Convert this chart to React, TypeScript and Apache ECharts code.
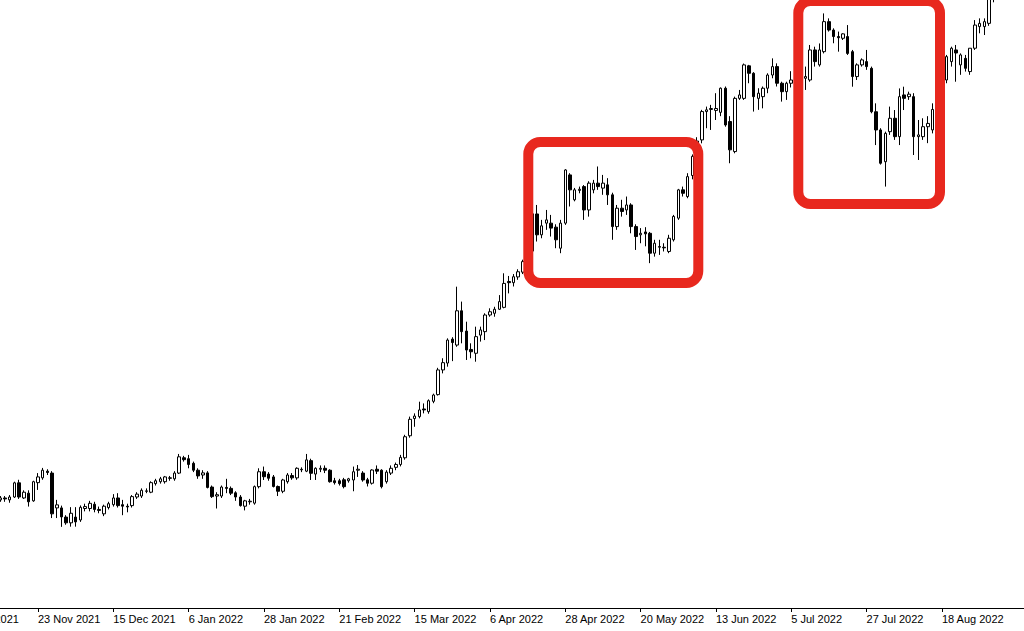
import React, { useEffect, useRef } from "react";
import * as echarts from "echarts";

// USD/JPY daily candles: [open, close, low, high]
const firstCategoryDate = "2021-11-01"; // weekday calendar starts here
const leadingEmpty = 8; // 1 Nov .. 10 Nov have no visible candle
const ohlc: number[][] = [
  [113.95, 114.05, 113.85, 114.15], // 11 Nov
  [114.05, 114.0, 113.85, 114.15],
  [113.95, 114.1, 113.8, 114.2],
  [114.1, 114.84, 114.05, 114.9],
  [114.84, 114.1, 114.0, 115.0],
  [114.05, 114.35, 114.0, 114.45],
  [114.3, 113.85, 113.6, 114.45],
  [113.9, 114.9, 113.85, 114.95],
  [114.85, 115.15, 114.47, 115.35],
  [115.1, 115.5, 115.0, 115.62],
  [115.45, 115.38, 115.25, 115.55],
  [115.35, 113.22, 113.0, 115.45], // 26 Nov
  [113.53, 113.69, 113.0, 113.95],
  [113.53, 113.06, 112.54, 113.65],
  [113.05, 112.75, 112.65, 113.15],
  [112.75, 113.25, 112.55, 113.57],
  [113.05, 112.8, 112.55, 113.57],
  [112.9, 113.56, 112.8, 113.66],
  [113.5, 113.6, 113.35, 113.75],
  [113.5, 113.77, 113.35, 113.9],
  [113.72, 113.45, 113.3, 113.85],
  [113.45, 113.4, 113.25, 113.6],
  [113.22, 113.62, 113.1, 113.7],
  [113.55, 113.75, 113.45, 113.85],
  [113.7, 114.05, 113.6, 114.25], // 15 Dec
  [114.05, 113.65, 113.55, 114.3],
  [113.7, 113.62, 113.15, 113.95],
  [113.62, 113.58, 113.3, 113.75],
  [113.65, 114.12, 113.55, 114.2],
  [114.1, 114.25, 114.0, 114.35],
  [114.15, 114.45, 114.05, 114.55],
  [114.42, 114.4, 114.3, 114.55],
  [114.35, 114.85, 114.3, 114.92],
  [114.8, 114.95, 114.7, 115.05],
  [114.9, 115.05, 114.8, 115.15],
  [114.9, 115.15, 114.8, 115.2],
  [115.1, 115.08, 114.95, 115.2],
  [115.05, 115.35, 114.95, 115.45], // 3 Jan
  [115.35, 116.2, 115.3, 116.35],
  [116.15, 116.05, 115.95, 116.25],
  [116.1, 115.8, 115.6, 116.3],
  [115.86, 115.5, 115.4, 115.95],
  [115.5, 115.2, 115.05, 115.6],
  [115.25, 115.36, 115.05, 115.5],
  [115.36, 114.6, 114.55, 115.45],
  [114.62, 114.12, 114.05, 114.7],
  [114.15, 114.22, 113.5, 114.35],
  [114.15, 114.62, 114.05, 114.7],
  [114.6, 114.55, 114.3, 115.05],
  [114.55, 114.3, 114.2, 114.65],
  [114.32, 114.1, 113.9, 114.4],
  [114.1, 113.65, 113.6, 114.2],
  [113.62, 113.9, 113.4, 113.95],
  [113.85, 113.88, 113.7, 114.0],
  [113.78, 114.64, 113.7, 114.7],
  [114.64, 115.42, 114.55, 115.6],
  [115.42, 115.16, 114.99, 115.69], // 28 Jan
  [115.3, 115.08, 114.95, 115.4],
  [115.15, 114.65, 114.6, 115.25],
  [114.65, 114.4, 114.15, 114.7],
  [114.4, 114.99, 114.3, 115.05],
  [114.9, 115.25, 114.8, 115.35],
  [115.22, 115.1, 115.0, 115.35],
  [115.1, 115.6, 115.0, 115.65],
  [115.55, 115.52, 115.4, 115.65],
  [115.45, 116.04, 115.4, 116.35],
  [116.0, 115.34, 114.99, 116.1],
  [115.3, 115.6, 114.99, 115.65],
  [115.55, 115.6, 115.4, 115.75],
  [115.6, 115.5, 115.35, 115.75],
  [115.5, 114.9, 114.85, 115.55],
  [114.95, 114.85, 114.75, 115.1],
  [114.95, 114.8, 114.7, 115.05], // 21 Feb
  [115.0, 114.64, 114.55, 115.1],
  [114.95, 115.05, 114.85, 115.1],
  [114.99, 115.42, 114.4, 115.69],
  [115.5, 115.55, 115.15, 115.77],
  [115.35, 114.99, 114.9, 115.45],
  [115.0, 114.82, 114.65, 115.1],
  [114.82, 115.51, 114.75, 115.55],
  [115.55, 115.45, 115.3, 115.75],
  [115.5, 114.64, 114.55, 115.55],
  [114.9, 115.4, 114.8, 115.5],
  [115.35, 115.6, 115.25, 115.75],
  [115.65, 115.8, 115.5, 115.9],
  [115.8, 116.17, 115.7, 116.3],
  [116.15, 117.25, 116.05, 117.35],
  [117.3, 118.16, 117.2, 118.3],
  [118.2, 118.33, 117.77, 118.47], // 15 Mar
  [118.3, 118.65, 118.21, 119.08],
  [118.7, 118.65, 118.47, 118.99],
  [118.56, 119.13, 118.45, 119.2],
  [119.1, 119.43, 119.0, 119.5],
  [119.45, 120.74, 119.4, 120.85],
  [120.74, 121.12, 120.56, 121.35],
  [121.1, 122.3, 120.91, 122.39],
  [122.35, 122.17, 121.2, 122.45],
  [122.04, 123.83, 121.95, 125.09],
  [123.83, 122.74, 122.13, 124.31],
  [122.77, 121.78, 121.26, 123.26],
  [121.81, 121.69, 121.35, 122.13],
  [121.61, 122.48, 121.17, 123.0],
  [122.56, 122.83, 122.22, 123.0],
  [122.74, 123.61, 122.3, 123.7],
  [123.61, 123.78, 123.52, 123.96], // 6 Apr
  [123.7, 123.91, 123.52, 124.04],
  [123.91, 124.31, 123.87, 124.65],
  [124.01, 125.26, 123.96, 125.79],
  [125.36, 125.3, 124.74, 125.65],
  [125.3, 125.61, 125.1, 125.75],
  [125.6, 125.87, 125.45, 126.0],
  [125.85, 126.4, 125.75, 126.5],
  [126.4, 126.95, 126.3, 127.05],
  [126.95, 128.9, 126.9, 129.0],
  [128.89, 127.8, 127.45, 129.36],
  [127.8, 128.27, 127.62, 128.58],
  [128.41, 128.58, 128.06, 129.1],
  [128.41, 128.15, 127.71, 128.84],
  [128.2, 127.54, 127.1, 128.35],
  [127.1, 128.41, 126.84, 128.58],
  [128.41, 131.19, 128.32, 131.23], // 28 Apr
  [130.93, 130.15, 129.28, 131.02],
  [129.63, 130.15, 129.55, 130.25],
  [130.12, 130.18, 129.97, 130.32],
  [130.32, 129.1, 128.58, 130.4],
  [129.1, 130.5, 128.75, 130.6],
  [130.15, 130.5, 129.97, 130.67],
  [130.5, 130.32, 130.15, 131.37],
  [130.24, 130.5, 129.89, 130.93],
  [130.41, 129.89, 129.36, 130.76],
  [129.89, 128.23, 127.54, 130.0],
  [128.23, 129.19, 128.06, 129.36],
  [129.19, 129.02, 128.75, 129.63],
  [129.1, 129.36, 128.84, 129.8],
  [129.36, 128.23, 127.88, 129.45],
  [128.23, 127.71, 127.01, 128.35],
  [127.8, 127.88, 127.36, 128.15], // 20 May
  [127.95, 127.85, 127.2, 128.2],
  [127.88, 126.84, 126.32, 127.95],
  [126.84, 127.36, 126.66, 127.54],
  [127.15, 127.19, 126.75, 127.54],
  [127.15, 127.12, 126.93, 127.36],
  [126.93, 127.62, 126.84, 127.8],
  [127.54, 128.76, 127.45, 128.84],
  [128.67, 130.15, 128.58, 130.2],
  [130.15, 129.97, 129.8, 130.32],
  [129.8, 130.84, 129.71, 131.02],
  [130.9, 131.9, 130.7, 132.0],
  [131.9, 132.7, 131.75, 132.9],
  [132.76, 134.24, 132.58, 134.33],
  [134.24, 134.33, 133.37, 134.5],
  [134.35, 134.4, 133.28, 134.59],
  [134.3, 134.4, 133.8, 135.2], // 13 Jun
  [134.2, 135.46, 134.0, 135.5],
  [135.46, 133.54, 133.45, 135.55],
  [133.72, 132.24, 131.54, 134.0],
  [132.15, 134.93, 132.06, 135.02],
  [134.93, 135.11, 134.85, 135.37],
  [134.93, 136.68, 134.85, 136.75],
  [136.63, 136.24, 135.72, 136.68],
  [136.24, 135.02, 134.24, 136.3],
  [134.93, 135.2, 134.33, 135.46],
  [135.02, 135.46, 134.41, 135.55],
  [135.46, 136.15, 135.2, 136.24],
  [136.15, 136.59, 135.98, 137.02],
  [136.59, 135.72, 135.55, 136.76],
  [135.72, 135.28, 134.76, 135.8],
  [135.28, 135.72, 134.85, 135.8],
  [135.72, 135.89, 135.5, 136.35], // 5 Jul
  [135.89, 135.9, 135.3, 136.3],
  [135.9, 135.98, 135.5, 136.2],
  [135.98, 136.07, 135.37, 136.59],
  [135.89, 137.46, 135.8, 137.72],
  [137.46, 136.85, 136.59, 137.63],
  [136.68, 137.46, 136.59, 137.8],
  [137.37, 138.94, 137.28, 139.37],
  [138.94, 138.5, 138.42, 139.11],
  [138.5, 138.16, 137.81, 138.59],
  [138.16, 138.1, 137.37, 138.42],
  [138.07, 138.3, 137.98, 138.33],
  [138.16, 137.28, 137.2, 138.76],
  [137.37, 136.07, 135.54, 137.46],
  [136.07, 136.68, 135.89, 136.76],
  [136.68, 136.94, 136.59, 137.02],
  [136.85, 136.59, 136.42, 137.46], // 27 Jul
  [136.5, 134.23, 134.15, 136.59],
  [134.23, 133.28, 132.49, 134.67],
  [133.28, 131.54, 131.47, 133.37],
  [131.62, 133.1, 130.32, 133.19],
  [133.19, 133.89, 133.02, 134.5],
  [133.89, 132.93, 132.76, 134.32],
  [132.93, 135.02, 132.49, 135.45],
  [135.11, 134.93, 134.32, 135.54],
  [135.02, 135.15, 134.85, 135.28],
  [135.02, 132.93, 131.97, 135.2],
  [132.93, 133.02, 131.71, 133.8],
  [132.93, 133.45, 132.76, 133.89],
  [133.45, 133.62, 132.59, 134.0],
  [133.28, 134.35, 133.1, 134.67],
  [134.35, 135.0, 134.1, 135.2],
  [135.0, 135.85, 134.8, 135.95], // 18 Aug
  [135.89, 137.11, 135.72, 137.2],
  [136.85, 137.55, 136.59, 137.63],
  [137.46, 137.3, 135.8, 137.72],
  [136.68, 137.2, 136.16, 137.28],
  [137.02, 136.5, 136.33, 137.2],
  [136.33, 137.55, 136.16, 137.55],
  [137.55, 138.76, 137.46, 139.02],
  [138.68, 138.85, 138.33, 139.11],
  [138.68, 138.94, 138.24, 139.11],
  [138.85, 140.15, 138.72, 140.25],
  [140.15, 140.5, 139.95, 140.8], // 2 Sep
];

const categoryCount = 227;
const tickLabels = [
  "1 Nov 2021",
  "23 Nov 2021",
  "15 Dec 2021",
  "6 Jan 2022",
  "28 Jan 2022",
  "21 Feb 2022",
  "15 Mar 2022",
  "6 Apr 2022",
  "28 Apr 2022",
  "20 May 2022",
  "13 Jun 2022",
  "5 Jul 2022",
  "27 Jul 2022",
  "18 Aug 2022",
];
const priceMin = 108.3;
const priceMax = 140.07;

// Highlight boxes (positions in pixels of the 1024x631 picture)
const highlightBoxes = [
  { x: 528.3, y: 142, width: 170, height: 141 },
  { x: 798.3, y: 1, width: 141.7, height: 203 },
];

const MONTHS = ["Jan", "Feb", "Mar", "Apr", "May", "Jun", "Jul", "Aug", "Sep", "Oct", "Nov", "Dec"];

function buildCategories(): string[] {
  const out: string[] = [];
  const d = new Date(firstCategoryDate + "T00:00:00Z");
  while (out.length < categoryCount) {
    const wd = d.getUTCDay();
    if (wd !== 0 && wd !== 6) {
      out.push(`${d.getUTCDate()} ${MONTHS[d.getUTCMonth()]} ${d.getUTCFullYear()}`);
    }
    d.setUTCDate(d.getUTCDate() + 1);
  }
  return out;
}

export default function App() {
  const ref = useRef<HTMLDivElement>(null);

  useEffect(() => {
    if (!ref.current) return;
    const chart = echarts.init(ref.current, null, { renderer: "svg" });
    const categories = buildCategories();
    const seriesData: any[] = [];
    for (let i = 0; i < categoryCount; i++) {
      const k = i - leadingEmpty;
      seriesData.push(k >= 0 && k < ohlc.length ? ohlc[k] : "-");
    }
    const tickSet = new Set(tickLabels);
    const showTick = (_idx: number, value: string) => tickSet.has(value);

    chart.setOption({
      animation: false,
      backgroundColor: "#ffffff",
      grid: {
        left: -39.71,
        right: -5,
        top: 0,
        bottom: 23,
        containLabel: false,
        outerBoundsMode: "none",
      },
      xAxis: {
        type: "category",
        data: categories,
        boundaryGap: true,
        axisLine: { show: true, lineStyle: { color: "#000000", width: 1 } },
        axisTick: {
          show: true,
          alignWithLabel: true,
          length: 4,
          interval: showTick,
          lineStyle: { color: "#000000", width: 1 },
        },
        axisLabel: {
          show: true,
          interval: showTick,
          align: "left",
          verticalAlign: "top",
          margin: 5,
          color: "#000000",
          fontSize: 11,
          fontFamily: "'Liberation Sans', Arial, sans-serif",
          hideOverlap: false,
        },
        splitLine: { show: false },
      },
      yAxis: {
        type: "value",
        min: priceMin,
        max: priceMax,
        show: false,
        splitLine: { show: false },
      },
      series: [
        {
          type: "candlestick",
          data: seriesData,
          barWidth: 3,
          clip: true,
          itemStyle: {
            color: "#ffffff",
            color0: "#000000",
            borderColor: "#000000",
            borderColor0: "#000000",
            borderWidth: 1,
          },
        },
      ],
      graphic: highlightBoxes.map((b) => ({
        type: "rect",
        z: 100,
        silent: true,
        shape: { x: b.x, y: b.y, width: b.width, height: b.height, r: 12 },
        style: { fill: "none", stroke: "#e8281e", lineWidth: 10 },
      })),
    });
    return () => chart.dispose();
  }, []);

  return (
    <div
      ref={ref}
      style={{ position: "fixed", left: 0, top: 0, width: 1024, height: 631, background: "#fff" }}
    />
  );
}
